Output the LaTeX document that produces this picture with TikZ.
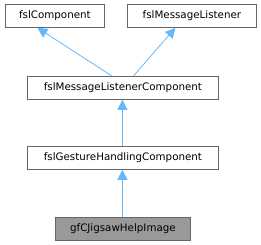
\documentclass[tikz,border=0pt]{standalone}
\usepackage{fontspec}
\setmainfont{DejaVu Sans}
\usetikzlibrary{arrows.meta}
\definecolor{edgeblue}{HTML}{63B8FF}
\definecolor{boxborder}{HTML}{666666}
\definecolor{hifill}{HTML}{999999}
\begin{document}
\begin{tikzpicture}[x=1pt,y=-1pt,
  cls/.style={draw=boxborder, line width=0.8pt, fill=white, inner sep=0pt, font=\fontsize{10.3}{12}\selectfont, text=black, anchor=north west},
  inh/.style={draw=edgeblue, line width=0.8pt, -{Triangle[length=10pt,width=10pt,fill=edgeblue]}}]
\useasboundingbox (0,0) rectangle (261,245);
\node[cls, minimum width=99pt, minimum height=23pt] (comp) at (5,4) {fslComponent};
\node[cls, minimum width=129pt, minimum height=23pt] (ml) at (127,4) {fslMessageListener};
\node[cls, minimum width=191pt, minimum height=23pt] (mlc) at (27,76) {fslMessageListenerComponent};
\node[cls, minimum width=191pt, minimum height=23pt] (ghc) at (27,146) {fslGestureHandlingComponent};
\node[cls, fill=hifill, minimum width=135pt, minimum height=23pt] (img) at (55,217) {gfCJigsawHelpImage};
\draw[inh] ([xshift=-11pt]mlc.north) -- ([xshift=-17.5pt]comp.south);
\draw[inh] ([xshift=10.5pt]mlc.north) -- ([xshift=-16.5pt]ml.south);
\draw[inh] ([xshift=-0.5pt]ghc.north) -- ([xshift=-0.5pt]mlc.south);
\draw[inh] ([xshift=-0.5pt]img.north) -- ([xshift=-0.5pt]img.north |- ghc.south);
\end{tikzpicture}
\end{document}
